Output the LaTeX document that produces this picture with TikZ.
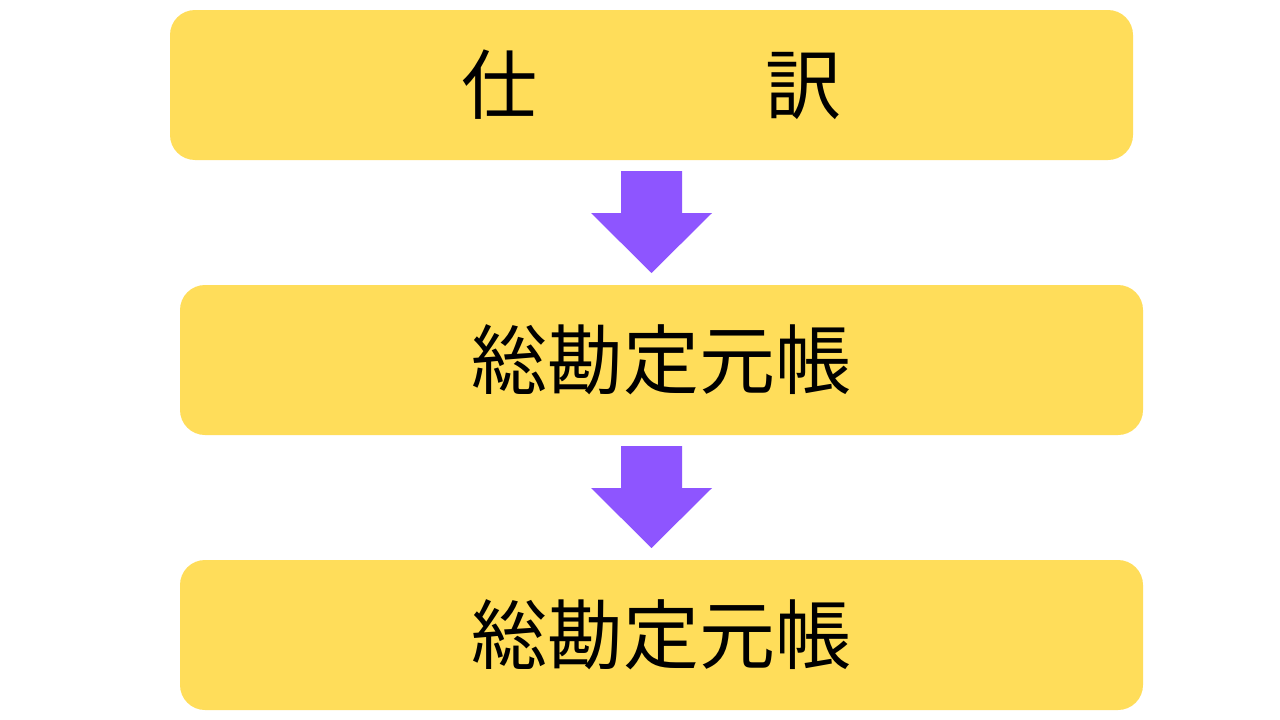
\documentclass[tikz,border=0pt]{standalone}
\usepackage{fontspec}
\newfontfamily\jpfont{Noto Sans CJK JP}
\definecolor{boxyellow}{HTML}{FFDD5A}
\definecolor{arrowpurple}{HTML}{8E55FF}
\begin{document}
\begin{tikzpicture}[x=1pt,y=-1pt,
  box/.style={fill=boxyellow, draw=none, rounded corners=25pt, minimum width=963pt, minimum height=150pt, inner sep=0pt, font=\jpfont\fontsize{76}{80}\selectfont, text=black},
  blockarrow/.style={fill=arrowpurple, draw=none}]
\useasboundingbox (0,0) rectangle (1280,720);
\fill[white] (0,0) rectangle (1280,720);
\node[box] (b1) at (651.5,85) {仕　　　訳};
\node[box] (b2) at (661.5,360) {総勘定元帳};
\node[box] (b3) at (661.5,635) {総勘定元帳};
\coordinate (a1top) at (651.5,171);
\coordinate (a2top) at (651.5,446);
\foreach \t in {a1top,a2top}{
  \fill[blockarrow] (\t) ++(-30.5,0) -- ++(61,0) -- ++(0,42) -- ++(30,0) -- ++(-60.5,60) -- ++(-60.5,-60) -- ++(30,0) -- cycle;
}
\end{tikzpicture}
\end{document}
